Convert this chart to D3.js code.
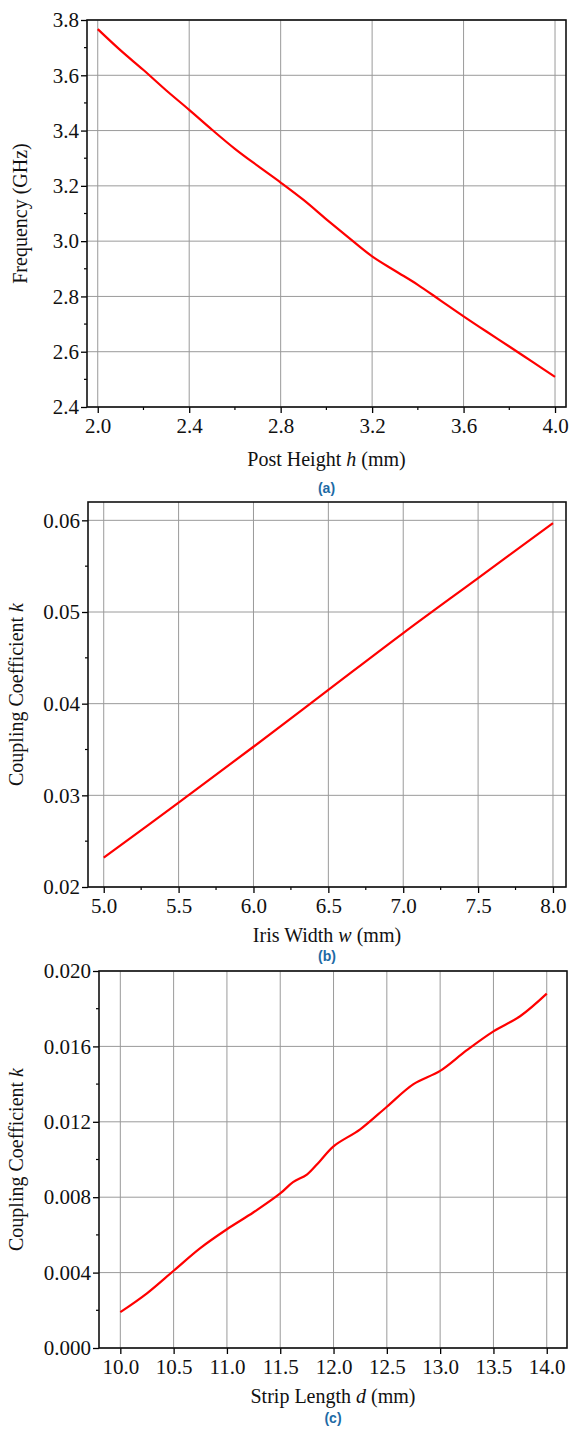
<!DOCTYPE html>
<html>
<head>
<meta charset="utf-8">
<script src="https://cdn.jsdelivr.net/npm/d3@7"></script>
<style>
  html, body { margin: 0; padding: 0; background: #fff; }
  svg text { font-family: "Liberation Serif", "Times New Roman", serif; fill: #111; }
  svg .tick text { font-family: "Liberation Serif", "Times New Roman", serif; font-size: 21px; }
  svg text.caption { font-family: "Liberation Sans", Arial, sans-serif; font-weight: bold; fill: #1d6aa5; }
</style>
</head>
<body>
<svg id="chart" width="572" height="1429"></svg>
<script>
// (a) post height vs frequency
const heightH = [2.0, 2.1, 2.2, 2.3, 2.4, 2.5, 2.6, 2.7, 2.8, 2.9, 3.0, 3.1, 3.2, 3.3, 3.4, 3.5, 3.6, 3.7, 3.8, 3.9, 4.0];
const freqGHz = [3.767, 3.69, 3.619, 3.545, 3.475, 3.403, 3.334, 3.272, 3.212, 3.149, 3.079, 3.011, 2.945, 2.893, 2.842, 2.785, 2.728, 2.673, 2.619, 2.564, 2.509];
const ticksA_x = [2.0, 2.4, 2.8, 3.2, 3.6, 4.0];
const ticksA_y = [2.4, 2.6, 2.8, 3.0, 3.2, 3.4, 3.6, 3.8];

// (b) iris width vs coupling
const irisW = [5.0, 5.5, 6.0, 6.5, 7.0, 7.5, 8.0];
const kIris = [0.0232, 0.0292, 0.0353, 0.0415, 0.0477, 0.0537, 0.0597];
const ticksB_x = [5.0, 5.5, 6.0, 6.5, 7.0, 7.5, 8.0];
const ticksB_y = [0.02, 0.03, 0.04, 0.05, 0.06];

// (c) strip length vs coupling
const stripD = [10.0, 10.25, 10.5, 10.75, 11.0, 11.25, 11.5, 11.62, 11.75, 11.87, 12.0, 12.25, 12.5, 12.75, 13.0, 13.25, 13.5, 13.75, 14.0];
const kStrip = [0.0019, 0.0029, 0.0041, 0.0053, 0.0063, 0.0072, 0.0082, 0.0088, 0.0092, 0.0099, 0.0107, 0.0116, 0.0128, 0.0140, 0.0147, 0.0158, 0.0168, 0.0176, 0.0188];
const ticksC_x = [10.0, 10.5, 11.0, 11.5, 12.0, 12.5, 13.0, 13.5, 14.0];
const ticksC_y = [0.000, 0.004, 0.008, 0.012, 0.016, 0.020];

const svg = d3.select('#chart');
const SERIF = '"Liberation Serif", "Times New Roman", serif';

function panel(o) {
  const g = svg.append('g');
  const x = d3.scaleLinear().domain(o.xDom).range([o.left, o.right]);
  const y = d3.scaleLinear().domain(o.yDom).range([o.bottom, o.top]);

  // grid
  g.append('g').selectAll('line').data(o.xt).join('line')
    .attr('x1', d => x(d)).attr('x2', d => x(d))
    .attr('y1', o.top).attr('y2', o.bottom)
    .attr('stroke', '#9a9a9a').attr('stroke-width', 1);
  g.append('g').selectAll('line').data(o.yt).join('line')
    .attr('x1', o.left).attr('x2', o.right)
    .attr('y1', d => y(d)).attr('y2', d => y(d))
    .attr('stroke', '#9a9a9a').attr('stroke-width', 1);

  // minor ticks halfway between majors
  const xMinor = o.xMinor ? d3.pairs(o.xt).map(p => (p[0] + p[1]) / 2) : [];
  const yMinor = d3.pairs(o.yt).map(p => (p[0] + p[1]) / 2);

  const xAxis = d3.axisBottom(x).tickValues(o.xt).tickFormat(o.xf).tickSize(6).tickPadding(5);
  const yAxis = d3.axisLeft(y).tickValues(o.yt).tickFormat(o.yf).tickSize(6).tickPadding(2);

  const gx = g.append('g').attr('transform', `translate(0,${o.bottom})`).call(xAxis);
  const gy = g.append('g').attr('transform', `translate(${o.left},0)`).call(yAxis);
  [gx, gy].forEach(a => {
    a.attr('font-family', null).attr('font-size', null);
    a.select('.domain').remove();
    a.selectAll('.tick line').attr('stroke', '#000').attr('stroke-width', 1.3);
    a.selectAll('.tick text').attr('fill', '#111');
  });

  g.append('g').selectAll('line').data(xMinor).join('line')
    .attr('x1', d => x(d)).attr('x2', d => x(d))
    .attr('y1', o.bottom).attr('y2', o.bottom + 3)
    .attr('stroke', '#000').attr('stroke-width', 1.2);
  g.append('g').selectAll('line').data(yMinor).join('line')
    .attr('x1', o.left - 3).attr('x2', o.left)
    .attr('y1', d => y(d)).attr('y2', d => y(d))
    .attr('stroke', '#000').attr('stroke-width', 1.2);

  // frame
  g.append('rect')
    .attr('x', o.left).attr('y', o.top)
    .attr('width', o.right - o.left).attr('height', o.bottom - o.top)
    .attr('fill', 'none').attr('stroke', '#111').attr('stroke-width', 1.6);

  // curve
  g.append('path')
    .datum(d3.zip(o.xs, o.ys))
    .attr('fill', 'none').attr('stroke', '#ff0000').attr('stroke-width', 2.2)
    .attr('d', d3.line().x(d => x(d[0])).y(d => y(d[1])).curve(d3.curveCatmullRom.alpha(0.5)));

  // titles
  const xt = g.append('text')
    .attr('x', (o.left + o.right) / 2).attr('y', o.bottom + o.xTitleDy)
    .attr('text-anchor', 'middle').style('font-size', '20px');
  o.xLabel.forEach(s => xt.append('tspan').text(s[0]).style('font-style', s[1] ? 'italic' : 'normal'));

  const yt = g.append('text')
    .attr('transform', `translate(${o.yLabelX},${(o.top + o.bottom) / 2}) rotate(-90)`)
    .attr('text-anchor', 'middle').style('font-size', '20px');
  o.yLabel.forEach(s => yt.append('tspan').text(s[0]).style('font-style', s[1] ? 'italic' : 'normal'));

  g.append('text').attr('class', 'caption')
    .attr('x', (o.left + o.right) / 2).attr('y', o.bottom + o.capDy)
    .attr('text-anchor', 'middle').style('font-size', '14px')
    .text(o.caption);
}

panel({
  xs: heightH, ys: freqGHz, xt: ticksA_x, yt: ticksA_y,
  xDom: [1.953, 4.048], yDom: [2.4, 3.8],
  left: 87, right: 566, top: 20, bottom: 407,
  xf: d3.format('.1f'), yf: d3.format('.1f'), xMinor: true,
  xLabel: [['Post Height '], ['h', true], [' (mm)']],
  yLabel: [['Frequency (GHz)']], yLabelX: 27,
  xTitleDy: 59, capDy: 86,
  caption: '(a)'
});

panel({
  xs: irisW, ys: kIris, xt: ticksB_x, yt: ticksB_y,
  xDom: [4.895, 8.087], yDom: [0.02, 0.062],
  left: 88, right: 566, top: 502, bottom: 887,
  xf: d3.format('.1f'), yf: d3.format('.2f'), xMinor: true,
  xLabel: [['Iris Width '], ['w', true], [' (mm)']],
  yLabel: [['Coupling Coefficient '], ['k', true]], yLabelX: 23,
  xTitleDy: 55, capDy: 74,
  caption: '(b)'
});

panel({
  xs: stripD, ys: kStrip, xt: ticksC_x, yt: ticksC_y,
  xDom: [9.8, 14.19], yDom: [0, 0.020],
  left: 99, right: 567, top: 971, bottom: 1348,
  xf: d3.format('.1f'), yf: d3.format('.3f'), xMinor: false,
  xLabel: [['Strip Length '], ['d', true], [' (mm)']],
  yLabel: [['Coupling Coefficient '], ['k', true]], yLabelX: 23,
  xTitleDy: 55, capDy: 75,
  caption: '(c)'
});
</script>
</body>
</html>
